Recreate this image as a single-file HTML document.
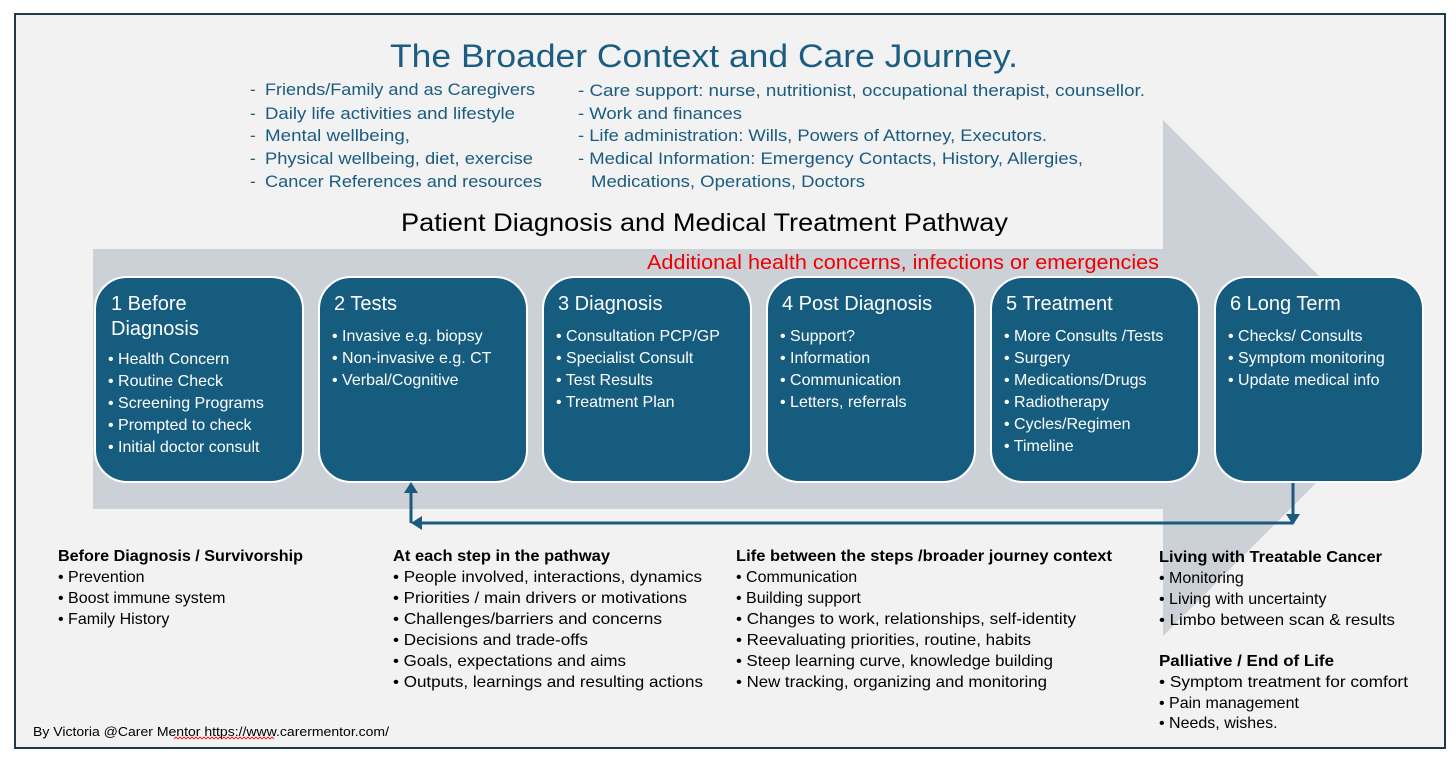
<!DOCTYPE html>
<html><head><meta charset="utf-8"><style>
html,body{margin:0;padding:0;background:#fff;}
svg{display:block;font-family:"Liberation Sans",sans-serif;}
.h{fill:#1a5b80;font-size:17px;}
.bt{fill:#fff;font-size:20px;}
.bb{fill:#fff;font-size:16px;}
.bh{fill:#000;font-size:16px;font-weight:bold;}
.bi{fill:#000;font-size:16px;}
</style></head><body>
<svg width="1456" height="763" viewBox="0 0 1456 763" xmlns="http://www.w3.org/2000/svg">
<rect x="15" y="14" width="1430" height="734" fill="#f2f2f2" stroke="#1e3a4a" stroke-width="2"/>
<!-- big arrow -->
<polygon points="93,249 1163,249 1163,120 1421,378 1163,636 1163,509 93,509" fill="#ccd1d8"/>
<text x="390" y="67" font-size="32" fill="#1b5d82" textLength="628" lengthAdjust="spacingAndGlyphs">The Broader Context and Care Journey.</text>
<g class="h">
<text x="250" y="95">-</text><text x="265" y="95" textLength="270" lengthAdjust="spacingAndGlyphs">Friends/Family and as Caregivers</text>
<text x="250" y="119">-</text><text x="265" y="119" textLength="250" lengthAdjust="spacingAndGlyphs">Daily life activities and lifestyle</text>
<text x="250" y="141">-</text><text x="265" y="141" textLength="145" lengthAdjust="spacingAndGlyphs">Mental wellbeing,</text>
<text x="250" y="164">-</text><text x="265" y="164" textLength="268" lengthAdjust="spacingAndGlyphs">Physical wellbeing, diet, exercise</text>
<text x="250" y="187">-</text><text x="265" y="187" textLength="277" lengthAdjust="spacingAndGlyphs">Cancer References and resources</text>
<text x="578" y="96" textLength="567" lengthAdjust="spacingAndGlyphs">- Care support: nurse, nutritionist, occupational therapist, counsellor.</text>
<text x="578" y="119" textLength="164" lengthAdjust="spacingAndGlyphs">- Work and finances</text>
<text x="578" y="141" textLength="469" lengthAdjust="spacingAndGlyphs">- Life administration: Wills, Powers of Attorney, Executors.</text>
<text x="578" y="164" textLength="505" lengthAdjust="spacingAndGlyphs">- Medical Information: Emergency Contacts, History, Allergies,</text>
<text x="591" y="187" textLength="274" lengthAdjust="spacingAndGlyphs">Medications, Operations, Doctors</text>
</g>
<text x="401" y="231" font-size="25" fill="#000" textLength="607" lengthAdjust="spacingAndGlyphs">Patient Diagnosis and Medical Treatment Pathway</text>
<text x="647" y="269" font-size="20" fill="#ee0000" textLength="512" lengthAdjust="spacingAndGlyphs">Additional health concerns, infections or emergencies</text>
<!-- boxes -->
<g fill="#165c7f" stroke="#fff" stroke-width="2">
<rect x="95" y="277" width="208" height="205" rx="32"/>
<rect x="319" y="277" width="208" height="205" rx="32"/>
<rect x="543" y="277" width="208" height="205" rx="32"/>
<rect x="767" y="277" width="208" height="205" rx="32"/>
<rect x="991" y="277" width="208" height="205" rx="32"/>
<rect x="1215" y="277" width="208" height="205" rx="32"/>
</g>
<g class="bt">
<text x="111" y="310">1 Before</text><text x="111" y="335">Diagnosis</text>
<text x="334" y="310">2 Tests</text>
<text x="558" y="310">3 Diagnosis</text>
<text x="782" y="310">4 Post Diagnosis</text>
<text x="1006" y="310">5 Treatment</text>
<text x="1230" y="310">6 Long Term</text>
</g>
<g class="bb">
<text x="108" y="364">• Health Concern</text>
<text x="108" y="386">• Routine Check</text>
<text x="108" y="408">• Screening Programs</text>
<text x="108" y="430">• Prompted to check</text>
<text x="108" y="452">• Initial doctor consult</text>
<text x="332" y="341">• Invasive e.g. biopsy</text>
<text x="332" y="363">• Non-invasive e.g. CT</text>
<text x="332" y="385">• Verbal/Cognitive</text>
<text x="556" y="341">• Consultation PCP/GP</text>
<text x="556" y="363">• Specialist Consult</text>
<text x="556" y="385">• Test Results</text>
<text x="556" y="407">• Treatment Plan</text>
<text x="780" y="341">• Support?</text>
<text x="780" y="363">• Information</text>
<text x="780" y="385">• Communication</text>
<text x="780" y="407">• Letters, referrals</text>
<text x="1004" y="341">• More Consults /Tests</text>
<text x="1004" y="363">• Surgery</text>
<text x="1004" y="385">• Medications/Drugs</text>
<text x="1004" y="407">• Radiotherapy</text>
<text x="1004" y="429">• Cycles/Regimen</text>
<text x="1004" y="451">• Timeline</text>
<text x="1228" y="341">• Checks/ Consults</text>
<text x="1228" y="363">• Symptom monitoring</text>
<text x="1228" y="385">• Update medical info</text>
</g>
<!-- connectors -->
<g stroke="#1a5a80" stroke-width="3" fill="none">
<line x1="1293" y1="483" x2="1293" y2="516"/>
<line x1="1293" y1="523" x2="418" y2="523"/>
<line x1="411" y1="523" x2="411" y2="490"/>
</g>
<g fill="#1a5a80">
<polygon points="1286,514 1300,514 1293,525"/>
<polygon points="411,523 422,516 422,530"/>
<polygon points="404,493 418,493 411,482"/>
</g>
<!-- bottom columns -->
<text class="bh" x="58" y="561" textLength="245" lengthAdjust="spacingAndGlyphs">Before Diagnosis / Survivorship</text>
<g class="bi">
<text x="58" y="582">• Prevention</text>
<text x="58" y="603">• Boost immune system</text>
<text x="58" y="624">• Family History</text>
</g>
<text class="bh" x="393" y="561" textLength="217" lengthAdjust="spacingAndGlyphs">At each step in the pathway</text>
<g class="bi">
<text x="393" y="582" textLength="309" lengthAdjust="spacingAndGlyphs">• People involved, interactions, dynamics</text>
<text x="393" y="603" textLength="294" lengthAdjust="spacingAndGlyphs">• Priorities / main drivers or motivations</text>
<text x="393" y="624" textLength="269" lengthAdjust="spacingAndGlyphs">• Challenges/barriers and concerns</text>
<text x="393" y="645" textLength="195" lengthAdjust="spacingAndGlyphs">• Decisions and trade-offs</text>
<text x="393" y="666" textLength="233" lengthAdjust="spacingAndGlyphs">• Goals, expectations and aims</text>
<text x="393" y="687" textLength="310" lengthAdjust="spacingAndGlyphs">• Outputs, learnings and resulting actions</text>
</g>
<text class="bh" x="736" y="561" textLength="376" lengthAdjust="spacingAndGlyphs">Life between the steps /broader journey context</text>
<g class="bi">
<text x="736" y="582">• Communication</text>
<text x="736" y="603">• Building support</text>
<text x="736" y="624" textLength="340" lengthAdjust="spacingAndGlyphs">• Changes to work, relationships, self-identity</text>
<text x="736" y="645" textLength="295" lengthAdjust="spacingAndGlyphs">• Reevaluating priorities, routine, habits</text>
<text x="736" y="666" textLength="317" lengthAdjust="spacingAndGlyphs">• Steep learning curve, knowledge building</text>
<text x="736" y="687" textLength="311" lengthAdjust="spacingAndGlyphs">• New tracking, organizing and monitoring</text>
</g>
<text class="bh" x="1159" y="562" textLength="223" lengthAdjust="spacingAndGlyphs">Living with Treatable Cancer</text>
<g class="bi">
<text x="1159" y="583">• Monitoring</text>
<text x="1159" y="604">• Living with uncertainty</text>
<text x="1159" y="625" textLength="236" lengthAdjust="spacingAndGlyphs">• Limbo between scan &amp; results</text>
</g>
<text class="bh" x="1159" y="666" textLength="175" lengthAdjust="spacingAndGlyphs">Palliative / End of Life</text>
<g class="bi">
<text x="1159" y="687" textLength="249" lengthAdjust="spacingAndGlyphs">• Symptom treatment for comfort</text>
<text x="1159" y="708">• Pain management</text>
<text x="1159" y="728">• Needs, wishes.</text>
</g>
<text x="33" y="736" font-size="13" fill="#000" textLength="356" lengthAdjust="spacingAndGlyphs">By Victoria @Carer Mentor https://www.carermentor.com/</text>
<path d="M174,739 l2,-2 l2,2 l2,-2 l2,2 l2,-2 l2,2 l2,-2 l2,2 l2,-2 l2,2 l2,-2 l2,2 l2,-2 l2,2 l2,-2 l2,2 l2,-2 l2,2 l2,-2 l2,2 l2,-2 l2,2 l2,-2 l2,2 l2,-2 l2,2 l2,-2 l2,2 l2,-2 l2,2 l2,-2 l2,2 l2,-2 l2,2 l2,-2 l2,2 l2,-2 l2,2 l2,-2 l2,2 l2,-2 l2,2 l2,-2 l2,2 l2,-2 l2,2 l2,-2 l2,2 l2,-2 l2,2" stroke="#e00" stroke-width="0.8" fill="none"/>
</svg>
</body></html>
